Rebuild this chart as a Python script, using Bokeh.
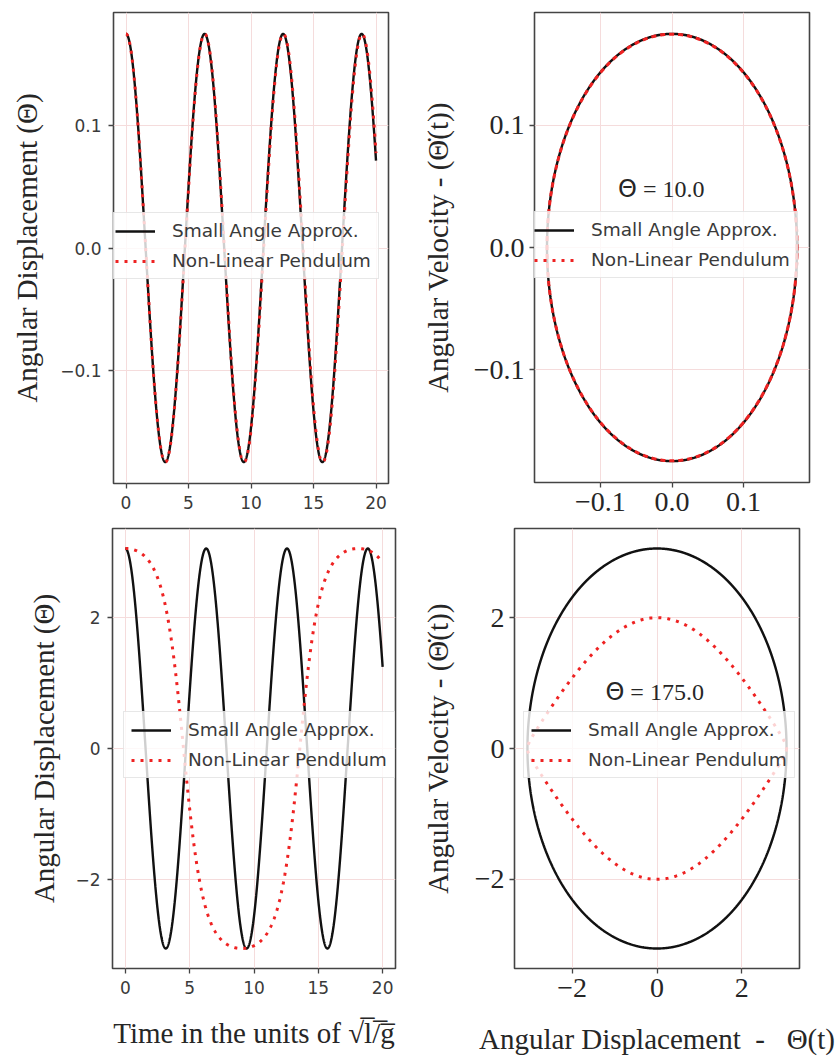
import numpy as np
from bokeh.plotting import figure
from bokeh.layouts import column, row
from bokeh.models import Range1d, FixedTicker, CustomJSTickFormatter, ColumnDataSource
from bokeh.core.properties import value
from bokeh.embed import file_html
from bokeh.resources import INLINE

# ---- values ----
THETA0_DEG = [10.0, 175.0]          # initial angles written in the annotations
T_SPAN = [0.0, 20.0]                # time axis span (units of sqrt(l/g))
N_SAMPLES = 2001
SERIES = ["Small Angle Approx.", "Non-Linear Pendulum"]
ANNOT = ["= 10.0", "= 175.0"]
TIME_TICKS = [0, 5, 10, 15, 20]
SMALL_TICKS = [-0.1, 0.0, 0.1]
LARGE_TICKS = [-2, 0, 2]


def integrate(theta0_deg, force):
    """RK4 integration of theta'' = force(theta), starting at rest."""
    t = np.linspace(T_SPAN[0], T_SPAN[1], N_SAMPLES)
    dt = t[1] - t[0]
    th = np.empty_like(t)
    om = np.empty_like(t)
    th[0] = np.deg2rad(theta0_deg)
    om[0] = 0.0
    for i in range(len(t) - 1):
        a, b = th[i], om[i]
        k1t, k1o = b, force(a)
        k2t, k2o = b + 0.5 * dt * k1o, force(a + 0.5 * dt * k1t)
        k3t, k3o = b + 0.5 * dt * k2o, force(a + 0.5 * dt * k2t)
        k4t, k4o = b + dt * k3o, force(a + dt * k3t)
        th[i + 1] = a + dt / 6 * (k1t + 2 * k2t + 2 * k3t + k4t)
        om[i + 1] = b + dt / 6 * (k1o + 2 * k2o + 2 * k3o + k4o)
    return t, th, om


def linear_force(x):
    return -x


def nonlinear_force(x):
    return -np.sin(x)


SERIF = "Liberation Serif"
SANS = "DejaVu Sans"
AX_COL = "#444444"
TXT_COL = "#262626"
RED = "#ee2222"

fmt1 = CustomJSTickFormatter(code="return (tick < -1e-9 ? '\\u2212' : '') + Math.abs(tick).toFixed(1);")
fmt0 = CustomJSTickFormatter(code="return (tick < -1e-9 ? '\\u2212' : '') + Math.abs(tick).toFixed(0);")


def make_fig(xr, yr, fw, fh, bl, br, bt, bb):
    p = figure(x_range=Range1d(*xr), y_range=Range1d(*yr),
               frame_width=fw, frame_height=fh,
               min_border_left=bl, min_border_right=br,
               min_border_top=bt, min_border_bottom=bb,
               toolbar_location=None, output_backend="svg")
    p.outline_line_color = AX_COL
    p.outline_line_width = 1.6
    p.background_fill_color = "white"
    p.border_fill_color = "white"
    for ax in (p.xaxis[0], p.yaxis[0]):
        ax.axis_line_color = None
        ax.major_tick_line_color = AX_COL
        ax.major_tick_line_width = 1.3
        ax.major_tick_out = 5
        ax.major_tick_in = 0
        ax.minor_tick_line_color = None
        ax.axis_label_text_font = SERIF
        ax.axis_label_text_font_size = "29px"
        ax.axis_label_text_font_style = "normal"
        ax.axis_label_text_color = TXT_COL
    for g in (p.xgrid[0], p.ygrid[0]):
        g.grid_line_color = "#f5dcdc"
        g.grid_line_width = 1
    return p


def style_ticks(ax, ticks, fmt, serif):
    ax.ticker = FixedTicker(ticks=ticks)
    ax.formatter = fmt
    ax.major_label_text_font = SERIF if serif else SANS
    ax.major_label_text_font_size = "28px" if serif else "17px"
    ax.major_label_text_color = TXT_COL if serif else "#3a3a3a"
    ax.major_label_standoff = 5 if serif else 7


def add_lines(p, xs_lin, ys_lin, xs_nl, ys_nl):
    p.line(xs_lin, ys_lin, line_color="#111111", line_width=2.4, legend_label=SERIES[0])
    p.line(xs_nl, ys_nl, line_color=RED, line_width=3, line_dash="3 6", legend_label=SERIES[1])


def style_legend(p, loc):
    lg = p.legend[0]
    lg.location = loc
    lg.label_text_font = SANS
    lg.label_text_font_size = "18.5px"
    lg.label_text_color = "#3a3a3a"
    lg.glyph_width = 40
    lg.glyph_height = 20
    lg.label_height = 20
    lg.label_standoff = 17
    lg.padding = 7
    lg.spacing = 9
    lg.margin = 0
    lg.border_line_color = "#cfcfcf"
    lg.border_line_width = 1
    lg.background_fill_color = "white"
    lg.background_fill_alpha = 0.8


def add_annot(p, x, y, rest):
    src = ColumnDataSource(dict(x=[x], y=[y], a=["\u0398"], b=[rest]))
    p.text(x="x", y="y", text="a", source=src, text_font=value(SANS),
           text_font_size="24px", text_color=TXT_COL, text_align="right",
           text_baseline="middle", x_offset=-2)
    p.text(x="x", y="y", text="b", source=src, text_font=value(SERIF),
           text_font_size="24px", text_color=TXT_COL, text_align="left",
           text_baseline="middle", x_offset=4)


figs = []
for k, th0 in enumerate(THETA0_DEG):
    t, th_l, om_l = integrate(th0, linear_force)
    _, th_n, om_n = integrate(th0, nonlinear_force)
    amp = max(np.abs(th_l).max(), np.abs(om_l).max()) * 1.1
    tpad = (T_SPAN[1] - T_SPAN[0]) * 0.05
    xr_t = (T_SPAN[0] - tpad, T_SPAN[1] + tpad)
    if k == 0:
        pa = make_fig(xr_t, (-amp, amp), 275, 471, 113, 30, 11, 38)
        pb = make_fig((-amp, amp), (-amp, amp), 275, 470, 115, 26, 12, 38)
        ticks_y, fmt = SMALL_TICKS, fmt1
    else:
        pa = make_fig(xr_t, (-amp, amp), 283, 440, 112, 23, 8, 88)
        pb = make_fig((-amp, amp), (-amp, amp), 285, 440, 93, 40, 8, 88)
        ticks_y, fmt = LARGE_TICKS, fmt0
    # time panel
    style_ticks(pa.xaxis[0], TIME_TICKS, fmt0, False)
    style_ticks(pa.yaxis[0], ticks_y, fmt, False)
    pa.yaxis[0].axis_label = "Angular Displacement (\u0398)"
    add_lines(pa, t, th_l, t, th_n)
    # phase panel
    style_ticks(pb.xaxis[0], ticks_y, fmt, True)
    style_ticks(pb.yaxis[0], ticks_y, fmt, True)
    pb.yaxis[0].axis_label = "Angular Velocity - (\u0398\u0307(t))"
    add_lines(pb, th_l, om_l, th_n, om_n)
    if k == 0:
        pa.yaxis[0].axis_label_standoff = 14
        pb.yaxis[0].axis_label_standoff = 17
        style_legend(pa, (-6, 204))
        style_legend(pb, (-8, 204))
        add_annot(pb, -amp * 0.24, amp * 0.25, ANNOT[k])
    else:
        pa.yaxis[0].axis_label_standoff = 12
        pb.yaxis[0].axis_label_standoff = 18
        pa.xaxis[0].axis_label = "Time in the units of \u221al\u0305/\u0305g\u0305"
        pb.xaxis[0].axis_label = "Angular Displacement \u00a0-\u00a0\u00a0 \u0398(t)"
        pa.xaxis[0].axis_label_standoff = 20
        pb.xaxis[0].axis_label_standoff = 23
        style_legend(pa, (11, 190))
        style_legend(pb, (9, 190))
        add_annot(pb, -amp * 0.215, amp * 0.256, ANNOT[k])
    figs.append((pa, pb))

layout = column(row(*figs[0]), row(*figs[1]))
open("out.html", "w").write(file_html(layout, INLINE))
